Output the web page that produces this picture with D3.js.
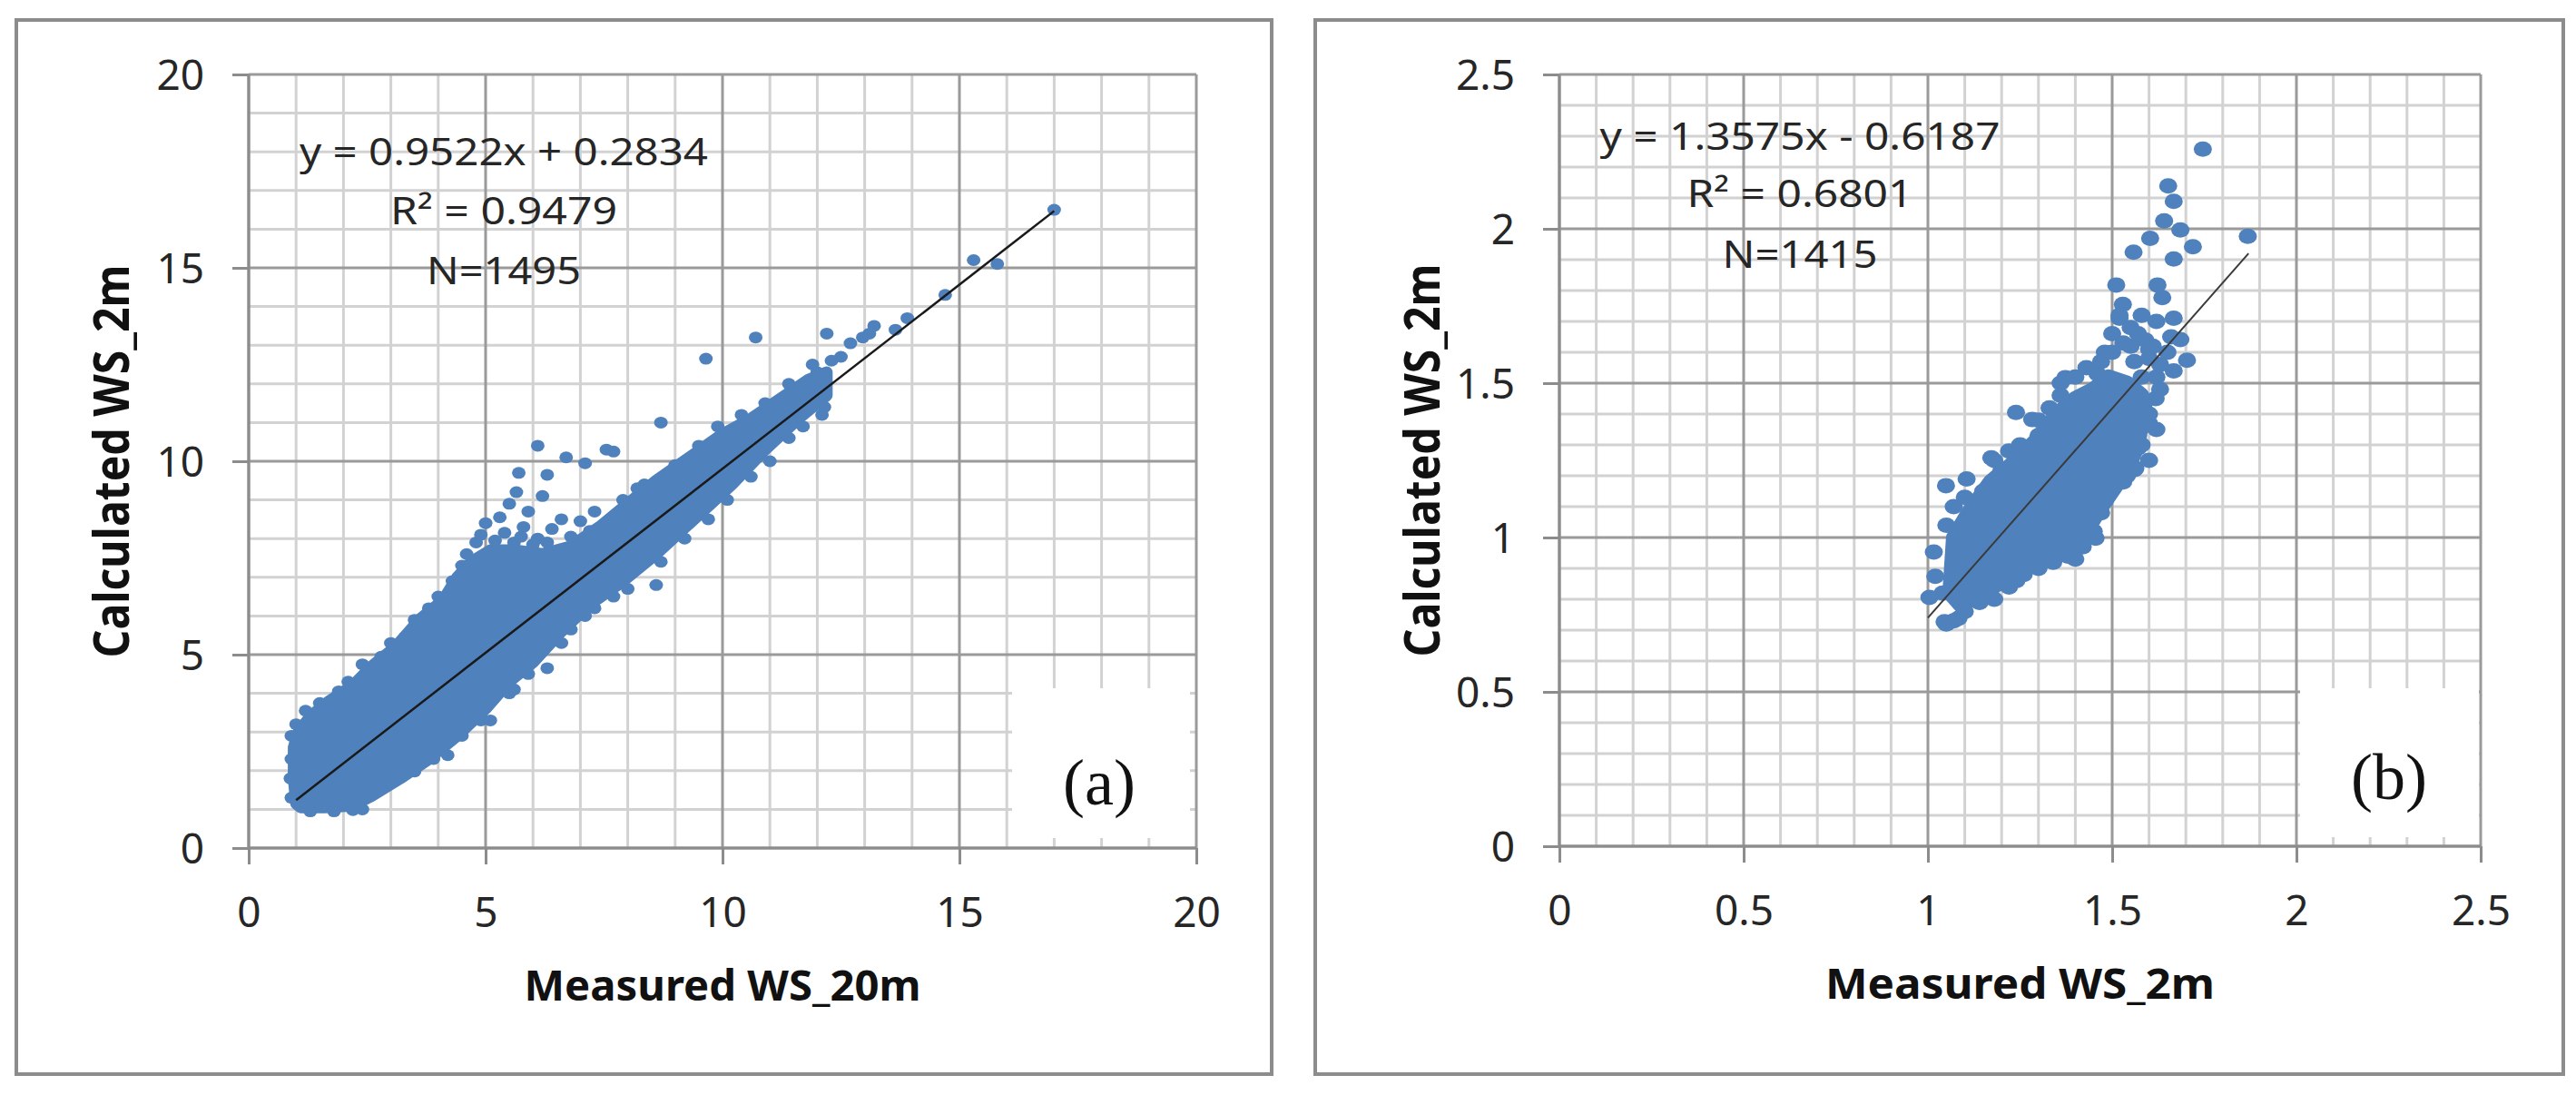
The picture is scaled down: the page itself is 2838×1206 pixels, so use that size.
<!DOCTYPE html>
<html><head><meta charset="utf-8">
<script src="https://cdn.jsdelivr.net/npm/d3@7"></script>
<style>html,body{margin:0;padding:0;background:#fff;} svg{display:block;}</style>
</head><body>
<svg id="chart" width="2838" height="1206"></svg>
<script>
// ---------- data ----------
const ticksA = [0, 5, 10, 15, 20];
const ticksB = [0, 0.5, 1, 1.5, 2, 2.5];
const titleXA = "Measured WS_20m";
const titleXB = "Measured WS_2m";
const titleY = "Calculated WS_2m";
const eqA = ["y = 0.9522x + 0.2834", "R\u00B2 = 0.9479", "N=1495"];
const eqB = ["y = 1.3575x - 0.6187", "R\u00B2 = 0.6801", "N=1415"];
const tagA = "(a)";
const tagB = "(b)";
const trendA = [[1.0, 1.24], [17.0, 16.47]];
const trendB = [[1.0, 0.74], [1.87, 1.92]];

// dense solid part of the cloud (outline through marker centres)
const coreA = [
  [1.0,1.15],[0.95,1.8],[0.95,2.6],[1.05,3.0],[1.3,3.4],[1.7,3.8],[2.2,4.2],[2.6,4.7],[3.1,5.2],
  [3.6,5.9],[4.1,6.4],[4.4,7.0],[4.7,7.4],[5.1,7.7],[5.6,7.7],[6.2,7.6],[6.8,7.8],[7.4,8.3],
  [8.0,8.9],[8.6,9.5],[9.3,10.1],[10.0,10.7],[10.6,11.1],[11.2,11.6],[11.8,12.1],[12.2,12.3],
  [12.2,11.7],[11.6,11.1],[10.9,10.3],[10.2,9.4],[9.4,8.5],[8.6,7.6],[7.9,6.9],[7.2,6.3],
  [6.6,5.6],[6.0,4.8],[5.5,4.3],[5.0,3.6],[4.4,2.9],[3.8,2.3],[3.2,1.8],[2.6,1.35],[2.2,1.1],
  [1.6,1.05],[1.1,1.05]
];
const pointsA = [
  [0.9,1.3],[0.88,1.8],[0.9,2.3],[0.9,2.9],[1.0,3.2],[1.2,3.55],[1.5,3.75],[1.9,4.05],[2.1,4.3],
  [2.4,4.75],[2.8,4.95],[3.0,5.3],[3.3,5.45],[3.5,5.9],[3.8,6.2],[4.0,6.5],[4.3,6.9],[4.5,7.3],
  [4.6,7.6],[4.8,7.9],[5.0,8.4],[5.3,8.55],[5.5,8.9],[5.65,9.2],[5.7,9.7],[6.1,10.4],[6.3,9.65],
  [6.2,9.1],[5.9,8.7],[6.7,10.1],[7.1,9.95],[7.55,10.3],[7.7,10.25],[6.6,8.5],[7.0,8.45],[6.1,8.0],
  [6.5,7.55],[7.9,9.0],[8.35,9.4],[8.7,11.0],[5.4,8.15],[5.8,8.3],[6.4,8.25],[7.3,8.7],[8.2,9.3],
  [5.2,7.95],[5.6,7.9],[6.0,7.85],[6.8,8.05],[7.2,8.2],[4.9,8.1],[5.75,8.05],[6.3,7.9],
  [9.0,9.9],[9.5,10.4],[9.9,10.9],[10.4,11.2],[10.9,11.5],[11.4,12.0],[11.9,12.5],[12.0,12.3],
  [12.3,12.6],[12.2,13.3],[12.5,12.7],[12.7,13.05],[12.96,13.2],[13.1,13.3],[13.2,13.5],[13.65,13.4],
  [13.9,13.7],[14.7,14.3],[15.3,15.2],[15.8,15.1],[17.0,16.5],[9.65,12.65],[10.7,13.2],
  [1.3,0.95],[1.8,0.95],[2.2,0.98],[2.4,1.0],[2.9,1.6],[3.0,1.7],[3.5,1.98],[3.9,2.3],[4.2,2.4],
  [4.5,2.9],[4.9,3.3],[5.1,3.3],[5.5,4.0],[5.6,4.1],[5.9,4.5],[6.3,4.65],[6.6,5.3],[6.8,5.65],
  [7.1,6.0],[7.3,6.2],[7.7,6.5],[8.0,6.7],[8.6,6.8],[8.7,7.4],[9.2,8.0],[9.7,8.5],[10.1,9.0],
  [10.6,9.6],[11.0,10.0],[11.4,10.6],[11.7,10.9],[12.1,11.2],[12.15,11.4]
];
const coreB = [
  [1.06,0.82],[1.07,1.00],[1.11,1.08],[1.17,1.18],[1.23,1.24],[1.29,1.31],[1.35,1.40],[1.40,1.45],
  [1.45,1.48],[1.49,1.52],[1.54,1.50],[1.58,1.46],[1.58,1.38],[1.57,1.30],[1.54,1.22],[1.50,1.15],
  [1.46,1.08],[1.42,1.00],[1.37,0.96],[1.31,0.93],[1.25,0.89],[1.19,0.85],[1.13,0.81],[1.09,0.78]
];
const pointsB = [
  [1.746,2.258],[1.652,2.139],[1.667,2.089],[1.641,2.026],[1.603,1.969],[1.685,1.996],[1.719,1.942],
  [1.868,1.976],[1.558,1.924],[1.667,1.902],[1.511,1.818],[1.623,1.818],[1.636,1.777],[1.529,1.755],
  [1.667,1.71],[1.685,1.641],[1.703,1.574],[1.667,1.54],[1.618,1.45],[1.585,1.36],[1.563,1.224],
  [1.455,0.998],[1.049,1.168],[1.105,1.19],[1.016,0.953],[1.02,0.874],[1.004,0.806],[1.045,0.727],
  [1.083,0.738],[1.239,1.405],[1.283,1.382],[1.172,1.258],[1.373,1.518],
  [1.52,1.71],[1.55,1.68],[1.60,1.61],[1.58,1.52],[1.63,1.56],[1.585,1.43],[1.60,1.37],[1.57,1.29],
  [1.54,1.20],[1.50,1.16],
  [1.05,1.04],[1.07,1.10],[1.10,1.13],[1.12,1.06],[1.15,1.00],[1.13,0.95],[1.18,1.25],[1.20,1.22],
  [1.22,1.28],[1.25,1.30],[1.27,1.20],[1.30,1.38],[1.33,1.42],[1.36,1.50],[1.40,1.52],[1.43,1.55],
  [1.46,1.53],[1.48,1.60],[1.50,1.66],[1.52,1.72],[1.53,1.63],[1.55,1.62],[1.57,1.66],[1.59,1.64],
  [1.60,1.58],[1.62,1.52],[1.58,1.45],[1.60,1.40],[1.62,1.35],[1.58,1.30],[1.56,1.22],[1.53,1.18],
  [1.47,1.08],[1.45,1.02],[1.42,0.97],[1.38,0.94],[1.34,0.92],[1.30,0.90],[1.26,0.88],[1.22,0.84],
  [1.18,0.80],[1.14,0.79],[1.10,0.76],[1.07,0.73],[1.05,0.72],[1.04,0.82],[1.08,0.88],[1.12,0.92],
  [1.50,1.60],[1.47,1.57],[1.56,1.57],[1.61,1.62],[1.63,1.48],[1.60,1.25],[1.48,1.12],[1.40,0.93],
  [1.36,1.46],[1.30,1.33],[1.15,1.15],[1.12,1.02],[1.17,0.83],[1.24,0.86],[1.65,1.60],[1.66,1.65],
  [1.62,1.70],[1.58,1.72]
];

// ---------- drawing ----------
const svg = d3.select("#chart");
const BLUE = "#4f81bd";
const FONT = "'Noto Sans', 'Open Sans', sans-serif";

function panel(cfg) {
  const g = svg.append("g");
  g.append("rect").attr("x", cfg.frame[0]).attr("y", cfg.frame[1])
    .attr("width", cfg.frame[2] - cfg.frame[0]).attr("height", cfg.frame[3] - cfg.frame[1])
    .attr("fill", "#fff").attr("stroke", "#8c8c8c").attr("stroke-width", 4);

  const x = d3.scaleLinear().domain(cfg.domain).range([cfg.px[0], cfg.px[1]]);
  const y = d3.scaleLinear().domain(cfg.domain).range([cfg.py[0], cfg.py[1]]);
  const ticks = cfg.ticks;
  const step = (ticks[1] - ticks[0]) / 5;
  const minor = d3.range(0, 5 * (ticks.length - 1) + 1).map(i => +(i * step).toFixed(6))
    .filter(v => !ticks.some(t => Math.abs(t - v) < 1e-9));

  const gm = g.append("g").attr("stroke", "#d2d2d2").attr("stroke-width", 3);
  minor.forEach(v => {
    gm.append("line").attr("x1", x(v)).attr("x2", x(v)).attr("y1", y(cfg.domain[0])).attr("y2", y(cfg.domain[1]));
    gm.append("line").attr("y1", y(v)).attr("y2", y(v)).attr("x1", x(cfg.domain[0])).attr("x2", x(cfg.domain[1]));
  });
  const gM = g.append("g").attr("stroke", "#9a9a9a").attr("stroke-width", 3);
  ticks.forEach(v => {
    gM.append("line").attr("x1", x(v)).attr("x2", x(v)).attr("y1", y(cfg.domain[0])).attr("y2", y(cfg.domain[1]));
    gM.append("line").attr("y1", y(v)).attr("y2", y(v)).attr("x1", x(cfg.domain[0])).attr("x2", x(cfg.domain[1]));
  });
  const b = cfg.box;
  g.append("rect").attr("x", b[0]).attr("y", b[1]).attr("width", b[2] - b[0]).attr("height", b[3] - b[1]).attr("fill", "#fff");

  const xAxis = d3.axisBottom(x).tickValues(ticks).tickSize(18).tickPadding(12).tickFormat(d => String(d));
  const yAxis = d3.axisLeft(y).tickValues(ticks).tickSize(18).tickPadding(30).tickFormat(d => String(d));
  const ax = g.append("g").attr("transform", `translate(0,${y(0)})`).call(xAxis);
  const ay = g.append("g").attr("transform", `translate(${x(0)},0)`).call(yAxis);
  [ax, ay].forEach(a => {
    a.select(".domain").attr("stroke", "#8c8c8c").attr("stroke-width", 3);
    a.selectAll(".tick line").attr("stroke", "#8c8c8c").attr("stroke-width", 3);
    a.selectAll(".tick text").attr("fill", "#262626").attr("font-family", FONT).attr("font-size", 46);
  });
  ax.select(".domain").attr("d", `M${x(cfg.domain[0])},0H${x(cfg.domain[1])}`);
  ay.select(".domain").attr("d", `M0,${y(cfg.domain[0])}V${y(cfg.domain[1])}`);
  ax.selectAll(".tick text").attr("y", 87).attr("dy", 0);
  ay.selectAll(".tick text").attr("x", -49).attr("dy", "0.36em");

  g.append("path").datum(cfg.core)
    .attr("d", d3.line().x(d => x(d[0])).y(d => y(d[1])).curve(d3.curveLinearClosed))
    .attr("fill", BLUE).attr("stroke", BLUE).attr("stroke-width", cfg.ry * 2).attr("stroke-linejoin", "round");
  g.append("g").selectAll("ellipse").data(cfg.points).join("ellipse")
    .attr("cx", d => x(d[0])).attr("cy", d => y(d[1])).attr("rx", cfg.rx).attr("ry", cfg.ry).attr("fill", BLUE);
  g.append("path").datum(cfg.trend)
    .attr("d", d3.line().x(d => x(d[0])).y(d => y(d[1])))
    .attr("stroke", cfg.trendColor).attr("stroke-width", cfg.trendWidth).attr("fill", "none");

  cfg.eq.forEach((t, i) => {
    g.append("text").attr("x", cfg.eqX).attr("y", cfg.eqY[i]).attr("text-anchor", "middle")
      .attr("font-family", FONT).attr("font-size", 42).attr("fill", "#262626")
      .attr("textLength", cfg.eqW[i]).attr("lengthAdjust", "spacingAndGlyphs").text(t);
  });
  g.append("text").attr("x", cfg.tagX).attr("y", cfg.tagY).attr("text-anchor", "middle")
    .attr("font-family", "'Liberation Serif', 'DejaVu Serif', serif").attr("font-size", 72).attr("fill", "#111")
    .text(cfg.tag);
  g.append("text").attr("x", (cfg.px[0] + cfg.px[1]) / 2).attr("y", cfg.xTitleY).attr("text-anchor", "middle")
    .attr("font-family", FONT).attr("font-weight", "bold").attr("font-size", 46).attr("fill", "#111")
    .attr("textLength", cfg.xTitleW).attr("lengthAdjust", "spacingAndGlyphs").text(cfg.xTitle);
  g.append("text").attr("transform", `translate(${cfg.yTitleX},${(cfg.py[0] + cfg.py[1]) / 2}) rotate(-90)`)
    .attr("text-anchor", "middle")
    .attr("font-family", FONT).attr("font-weight", "bold").attr("font-size", 54).attr("fill", "#111")
    .attr("textLength", 433).attr("lengthAdjust", "spacingAndGlyphs").text(titleY);
}

panel({
  frame: [18, 22, 1401, 1183], domain: [0, 20], px: [274, 1318], py: [934, 82], ticks: ticksA,
  box: [1115, 758, 1311, 923], core: coreA, points: pointsA, rx: 7.5, ry: 6.5,
  trend: trendA, trendColor: "#1a1a1a", trendWidth: 2.5,
  eq: eqA, eqX: 555, eqY: [182, 247, 313], eqW: [450, 250, 170],
  tag: tagA, tagX: 1211, tagY: 886, xTitle: titleXA, xTitleY: 1102, xTitleW: 437, yTitleX: 142
});
panel({
  frame: [1449, 22, 2824, 1183], domain: [0, 2.5], px: [1718, 2733], py: [932, 82], ticks: ticksB,
  box: [2534, 758, 2731, 922], core: coreB, points: pointsB, rx: 10, ry: 8.5,
  trend: trendB, trendColor: "#3a3a3a", trendWidth: 2,
  eq: eqB, eqX: 1983, eqY: [165, 228, 295], eqW: [441, 249, 171],
  tag: tagB, tagX: 2632, tagY: 880, xTitle: titleXB, xTitleY: 1100, xTitleW: 429, yTitleX: 1586
});
</script>
</body></html>
